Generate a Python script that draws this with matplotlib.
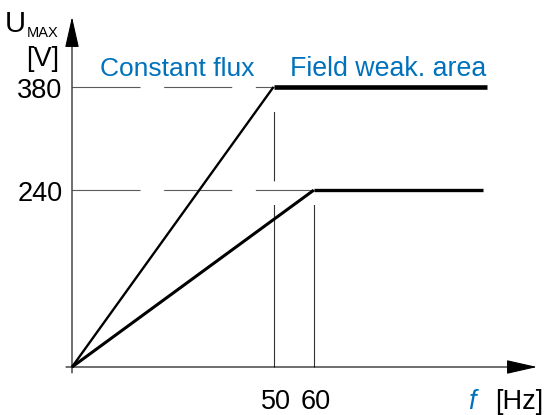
import matplotlib
matplotlib.use("Agg")
import matplotlib.pyplot as plt

# Dados do diagrama U/f
f_nom = [50, 60]          # frequência nominal [Hz]
u_max = [380, 240]        # tensão máxima [V]
f_end = [103, 102]        # onde termina a linha na área de enfraquecimento
lw_slope = [1.7, 2.2]
lw_flat = [3.3, 2.4]

ytick_labels = ["380", "240"]
xtick_labels = ["50", "60"]
blue = "#0072bc"

plt.rcParams["font.family"] = ["Liberation Sans", "DejaVu Sans"]
plt.rcParams["lines.scale_dashes"] = False

fig = plt.figure(figsize=(5.47, 4.15), dpi=100)
ax = fig.add_axes([0, 0, 1, 1])
ax.axis("off")
# escala: origem em (72, 367) px, 4.03 px/Hz e 0.737 px/V
ax.set_xlim(-72 / 4.03, (547 - 72) / 4.03)
ax.set_ylim(-(415 - 367) / 0.737, 367 / 0.737)

# Linhas auxiliares tracejadas
for f, u in zip(f_nom, u_max):
    ax.plot([0, f], [u, u], color="#5a5a5a", lw=0.8, linestyle=(0, (49, 17)))
    ax.plot([f, f], [0, u], color="#333333", lw=0.8, linestyle=(0, (117, 17, 50, 18)))

# Curvas U/f
for f, u, fe, l1, l2 in zip(f_nom, u_max, f_end, lw_slope, lw_flat):
    ax.plot([0, f], [0, u], color="black", lw=l1, solid_capstyle="butt")
    ax.plot([f, fe], [u, u], color="black", lw=l2, solid_capstyle="butt")

# Eixos com setas
arrow = dict(arrowstyle="-|>,head_length=0.97,head_width=0.22", color="black",
             lw=0.8, shrinkA=0, shrinkB=0, mutation_scale=20)
ax.annotate("", xy=(0, 475), xytext=(0, -8), arrowprops=arrow)
ax.annotate("", xy=(115.4, 0), xytext=(-1.5, 0), arrowprops=arrow)

# Rótulos dos eixos
for u, lab in zip(u_max, ytick_labels):
    ax.annotate(lab, xy=(0, u), xytext=(-7, -8), textcoords="offset points",
                ha="right", va="baseline", fontsize=19.5)
for f, lab in zip(f_nom, xtick_labels):
    ax.annotate(lab, xy=(f, 0), xytext=(1.5, -30), textcoords="offset points",
                ha="center", va="baseline", fontsize=19.5)

ax.text(-16.6, 454.5, "U", fontsize=21, ha="left", va="baseline")
ax.text(-11.2, 447.8, "MAX", fontsize=10.5, ha="left", va="baseline")
ax.text(-7.4, 408, "[V]", fontsize=19.5, ha="center", va="baseline")

ax.text(98.3, -57.5, "f", fontsize=19.5, style="italic", color=blue, ha="left", va="baseline")
ax.text(105, -57.5, "[Hz]", fontsize=19.5, ha="left", va="baseline")

ax.text(7, 395, "Constant flux", fontsize=19, color=blue, ha="left", va="baseline")
ax.text(54, 395, "Field weak. area", fontsize=19.3, color=blue, ha="left", va="baseline")

plt.savefig("out.png", dpi=100)
